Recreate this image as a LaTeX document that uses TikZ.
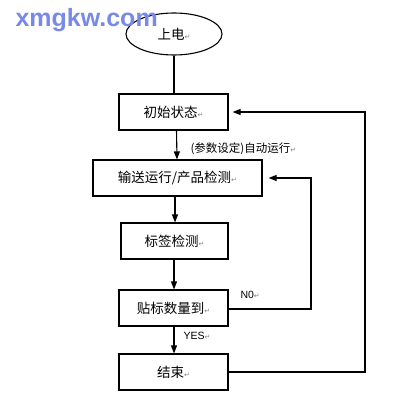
\documentclass[tikz,border=0pt]{standalone}
\usepackage{fontspec}
\setmainfont{Liberation Sans}
\newfontfamily\cjk{Noto Sans CJK SC}
\newfontfamily\dv{DejaVu Sans}
\usetikzlibrary{shapes.geometric,arrows.meta,calc}
\begin{document}
\begin{tikzpicture}[x=1pt,y=-1pt,
  line width=1.1pt,
  box/.style={draw,rectangle,minimum height=36pt,inner sep=0pt,font=\cjk\fontsize{13.5}{15}\selectfont},
  oval/.style={draw,ellipse,minimum width=96pt,minimum height=42pt,inner sep=0pt,font=\cjk\fontsize{13.5}{15}\selectfont},
  arr/.style={-{Triangle[length=8pt,width=6pt]}},
  lbl/.style={font=\cjk\fontsize{11.5}{13}\selectfont,inner sep=0pt}]
\newcommand{\pmk}{{\dv\fontsize{7}{8}\selectfont\textcolor{gray}{↵}}}
\useasboundingbox (0,0) rectangle (411,401);
\fill[white] (0,0) rectangle (411,401);
\node[oval] (e) at (174,34) {上电\pmk};
\node[box,minimum width=109pt] (b1) at (173.5,112) {初始状态\pmk};
\node[box,minimum width=169pt] (b2) at (177.5,178) {输送运行/产品检测\pmk};
\node[box,minimum width=107pt] (b3) at (174.5,241) {标签检测\pmk};
\node[box,minimum width=109pt] (b4) at (173.5,308) {贴标数量到\pmk};
\node[box,minimum width=109pt] (b5) at (173.5,372) {结束\pmk};
\node[lbl,anchor=west] (l1) at (190,149) {(参数设定)自动运行\pmk};
\node[lbl,anchor=west,font=\fontsize{10.5}{12}\selectfont] (l2) at (240,295) {N0\pmk};
\node[lbl,anchor=west,font=\fontsize{10.5}{12}\selectfont] (l3) at (183,336) {YES\pmk};
\coordinate (r1) at (311,0);
\coordinate (r2) at (365,0);
\draw (e.south) -- (e.south |- b1.north);
\draw[arr] ($(b1.south)+(3,0)$) -- ($(b2.north)+(-0.5,0)$);
\draw[arr] ($(b2.south)+(-2.5,0)$) -- ($(b3.north)+(0.5,0)$);
\draw[arr] ($(b3.south)+(-0.5,0)$) -- ($(b4.north)+(0.5,0)$);
\draw[arr] ($(b4.south)+(0.5,0)$) -- ($(b5.north)+(0.5,0)$);
\draw[arr] ($(b4.east)+(0,1)$) -| (r1 |- b2.east) -- ($(b2.east)+(6,0)$);
\draw[arr] (b5.east) -| (r2 |- b1.east) -- ($(b1.east)+(4,0)$);
\node[font=\bfseries\fontsize{25}{28}\selectfont,text={rgb,255:red,120;green,138;blue,232},inner sep=0pt,anchor=base west] (wm) at (15,27) {xmgkw.com};
\end{tikzpicture}
\end{document}
